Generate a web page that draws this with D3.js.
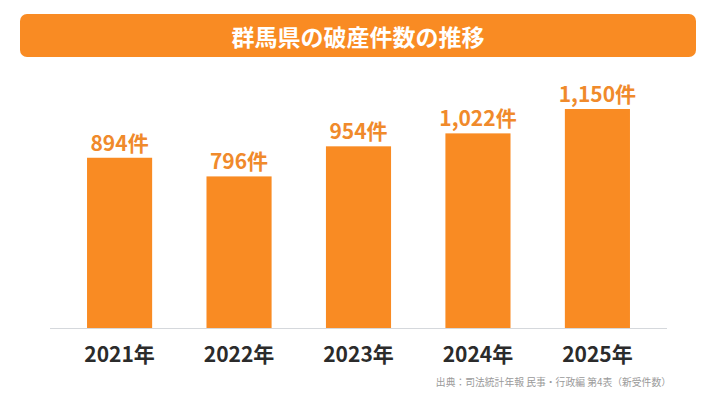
<!DOCTYPE html>
<html><head><meta charset="utf-8">
<script src="https://cdn.jsdelivr.net/npm/d3@7"></script>
<style>
html,body{margin:0;padding:0;background:#fff;}
svg{display:block;}
text{font-family:"Noto Sans CJK JP","Noto Sans",sans-serif;}
</style></head><body>
<svg id="chart" width="716" height="403"></svg>
<script>
const title = "群馬県の破産件数の推移";
const categories = ["2021年","2022年","2023年","2024年","2025年"];
const values = [894, 796, 954, 1022, 1150];
const unit = "件";
const source = "出典：司法統計年報 民事・行政編 第4表（新受件数）";

const svg = d3.select("#chart");
const W = 716, H = 403;
const orange = "#F98B23";
const labelOrange = "#F08A2B";

// title banner
svg.append("rect").attr("x",20).attr("y",14).attr("width",676).attr("height",43)
  .attr("rx",7).attr("fill",orange);
svg.append("text").attr("x",358).attr("y",36).attr("text-anchor","middle")
  .attr("dominant-baseline","central").attr("fill","#fff")
  .attr("font-size",23).attr("font-weight",700).text(title);

const x = d3.scaleBand().domain(categories).range([50, 667]).paddingInner(0.455).paddingOuter(0.31);
const y = d3.scaleLinear().domain([0, 1150]).range([328, 109]);

// bars
svg.selectAll("rect.bar").data(values).enter().append("rect").attr("class","bar")
  .attr("x",(d,i)=>x(categories[i])).attr("width",x.bandwidth())
  .attr("y",d=>y(d)).attr("height",d=>y(0)-y(d)).attr("fill",orange);

// value labels
svg.selectAll("text.val").data(values).enter().append("text").attr("class","val")
  .attr("x",(d,i)=>x(categories[i])+x.bandwidth()/2).attr("y",d=>y(d)-7)
  .attr("text-anchor","middle").attr("fill",labelOrange)
  .attr("font-size",21).attr("font-weight",700)
  .text(d=>d3.format(",")(d)+unit);

// axis line
svg.append("line").attr("x1",50).attr("x2",667).attr("y1",y(0)+0.5).attr("y2",y(0)+0.5)
  .attr("stroke","#d5d8dc").attr("stroke-width",1.2);

// category labels
const ax = svg.append("g").attr("transform",`translate(0,${y(0)})`)
  .call(d3.axisBottom(x).tickSize(0).tickPadding(0));
ax.select(".domain").remove();
ax.selectAll("text").attr("y",34).attr("dy",null).attr("fill","#2b2b2b")
  .attr("font-size",21).attr("font-weight",700)
  .attr("font-family","\"Noto Sans CJK JP\",\"Noto Sans\",sans-serif");

// source
svg.append("text").attr("x",671).attr("y",382).attr("text-anchor","end")
  .attr("dominant-baseline","central").attr("fill","#9a9a9a")
  .attr("font-size",9.8).text(source);
</script>
</body></html>
